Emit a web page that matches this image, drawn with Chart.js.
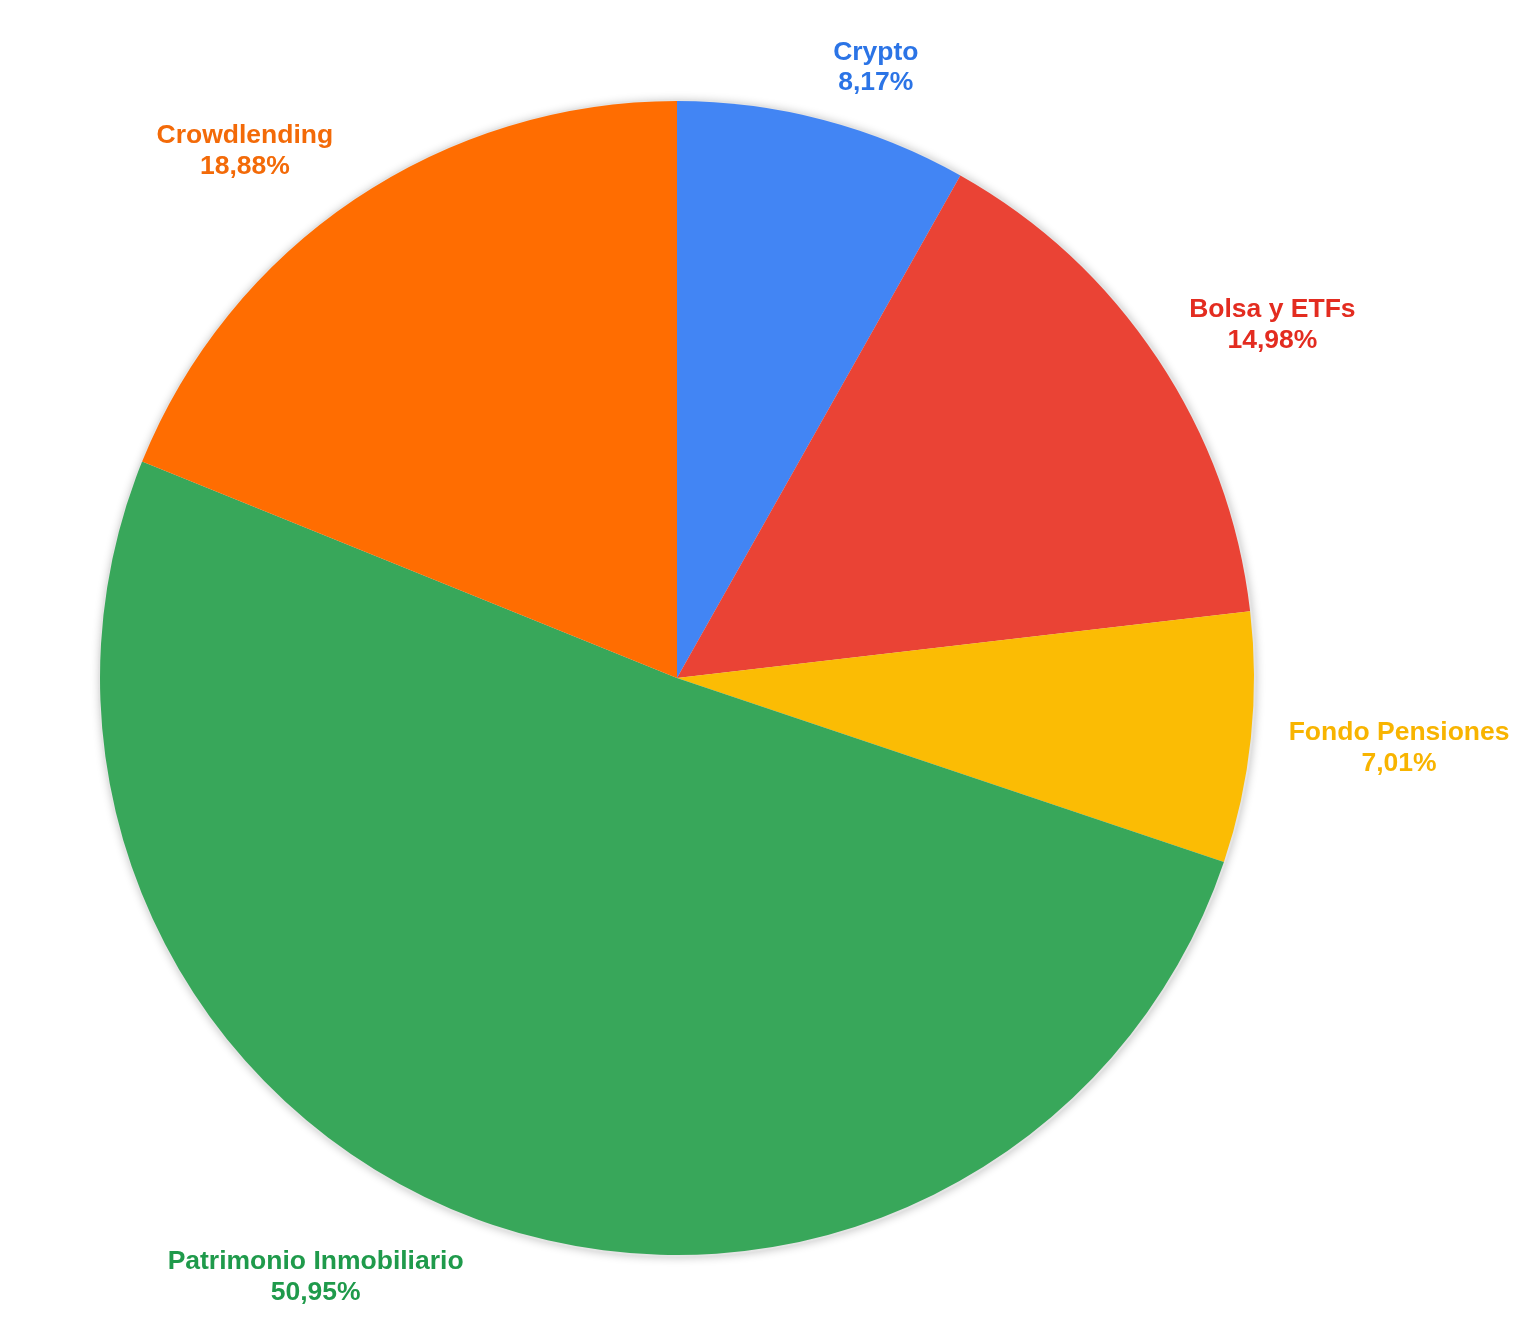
<!DOCTYPE html>
<html>
<head>
<meta charset="utf-8">
<script src="https://cdn.jsdelivr.net/npm/chart.js@4.4.1/dist/chart.umd.min.js"></script>
<style>
  html, body { margin: 0; padding: 0; background: #fff; }
  canvas { display: block; }
</style>
</head>
<body>
<canvas id="pie" width="1526" height="1324"></canvas>
<script>
// slices, clockwise from 12 o'clock
const categories = ["Crypto", "Bolsa y ETFs", "Fondo Pensiones", "Patrimonio Inmobiliario", "Crowdlending"];
const shares = [8.17, 14.98, 7.01, 50.95, 18.88];

const sliceColors = ["#4285f4", "#ea4335", "#fbbc04", "#38a75a", "#ff6d01"];
const textColors = ["#2b74e6", "#e32c20", "#f8b400", "#1f9a4b", "#f36a08"];

const fmt = (v) => v.toFixed(2).replace(".", ",") + "%";

// soft grey halo behind the pie
const halo = {
  id: "halo",
  beforeDatasetsDraw(chart) {
    const arc = chart.getDatasetMeta(0).data[0];
    if (!arc) return;
    const ctx = chart.ctx;
    ctx.save();
    ctx.beginPath();
    ctx.arc(arc.x, arc.y, arc.outerRadius + 2, 0, Math.PI * 2);
    ctx.fillStyle = "#e4e4e4";
    ctx.shadowColor = "rgba(0,0,0,0.22)";
    ctx.shadowBlur = 9;
    ctx.shadowOffsetX = 1;
    ctx.shadowOffsetY = 1;
    ctx.fill();
    ctx.restore();
  }
};

// outside labels: corner of the text block nearest the pie sits on the slice's mid ray
const outsideLabels = {
  id: "outsideLabels",
  afterDatasetsDraw(chart, args, opts) {
    const ctx = chart.ctx;
    const meta = chart.getDatasetMeta(0);
    ctx.save();
    ctx.font = opts.font;
    ctx.textBaseline = "middle";
    ctx.textAlign = "center";
    meta.data.forEach((arc, i) => {
      const mid = (arc.startAngle + arc.endAngle) / 2;
      const dx = Math.cos(mid), dy = Math.sin(mid);
      const ax = arc.x + dx * (arc.outerRadius + opts.gapX);
      const ay = arc.y + dy * (arc.outerRadius + opts.gapY);
      const lines = [chart.data.labels[i], fmt(chart.data.datasets[0].data[i])];
      const w = Math.max(...lines.map((l) => ctx.measureText(l).width));
      const h = opts.blockHeight;
      const left = dx >= 0 ? ax : ax - w;
      const k = Math.max(-1, Math.min(1, dy / 0.75));
      const top = ay - h / 2 + (h / 2) * k;
      ctx.fillStyle = opts.colors[i];
      lines.forEach((l, j) => {
        ctx.fillText(l, left + w / 2, top + opts.firstLine + j * opts.lineHeight);
      });
    });
    ctx.restore();
  }
};

new Chart(document.getElementById("pie"), {
  type: "pie",
  data: {
    labels: categories,
    datasets: [{
      data: shares,
      backgroundColor: sliceColors,
      borderWidth: 0,
      hoverBorderWidth: 0,
      hoverOffset: 0
    }]
  },
  options: {
    responsive: false,
    animation: false,
    layout: { padding: { left: 100, top: 101, right: 272, bottom: 69 } },
    plugins: {
      legend: { display: false },
      tooltip: { enabled: false },
      outsideLabels: {
        font: "bold 26.5px 'Liberation Sans', Arial, sans-serif",
        colors: textColors,
        gapX: 38,
        gapY: 28,
        blockHeight: 57,
        firstLine: 16.5,
        lineHeight: 30.5
      }
    }
  },
  plugins: [halo, outsideLabels]
});
</script>
</body>
</html>
